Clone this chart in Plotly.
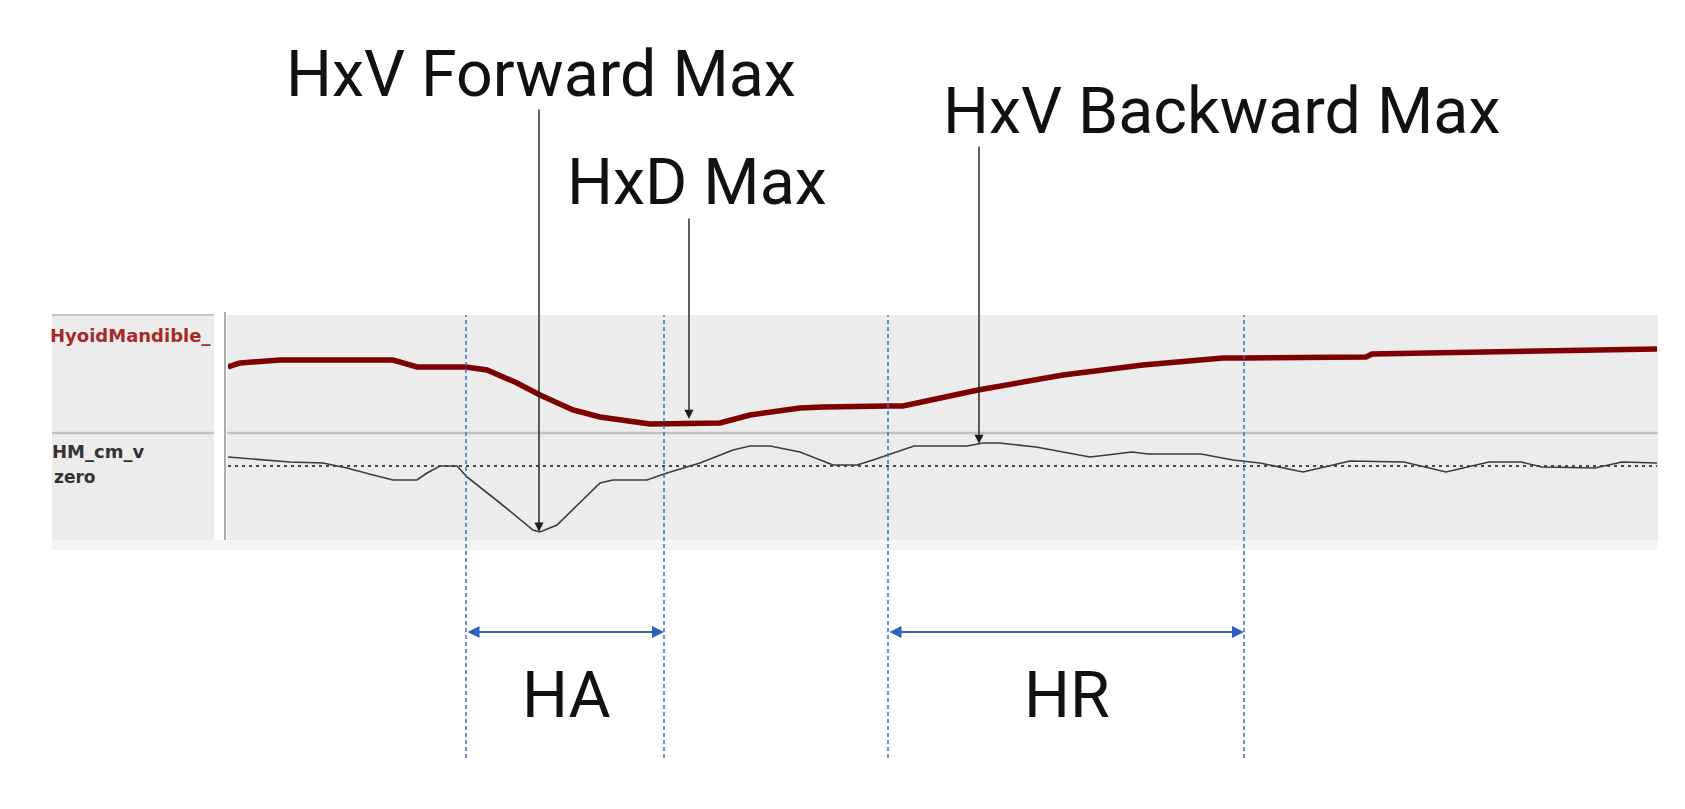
import numpy as np
import plotly.graph_objects as go

# ---------------- data ----------------
# time axis in video frames
frames_disp = [0, 1.2, 5.2, 16.5, 18.9, 23.8, 25.9, 28.9, 31.2, 34.5, 37.2, 40.5, 42.2,
               49.2, 52.2, 57.2, 59.5, 66.0, 67.5, 75.0, 83.5, 91.5, 99.5, 101.6,
               113.8, 114.4, 127.7, 141.0, 142.9]
# Hyoid-mandible distance (arbitrary units)
hyoid_mandible = [6.6, 7.0, 7.3, 7.3, 6.6, 6.6, 6.3, 5.0, 3.8, 2.3, 1.6, 1.1, 0.9,
                  1.0, 1.8, 2.5, 2.6, 2.7, 2.7, 4.3, 5.8, 6.8, 7.5, 7.5,
                  7.6, 7.9, 8.1, 8.4, 8.4]

frames_vel = [0, 1.2, 6.2, 9.5, 11.9, 14.5, 16.5, 18.9, 19.9, 21.2, 22.9, 23.9, 27.2,
              30.5, 31.2, 32.9, 37.2, 38.5, 41.9, 43.9, 47.2, 50.5, 52.2, 54.2, 57.2,
              60.5, 62.9, 64.5, 65.9, 68.6, 73.9, 75.5, 77.1, 80.8, 86.2, 90.4, 92.0,
              97.3, 100.5, 103.2, 107.5, 112.2, 117.6, 121.8, 126.1, 129.3, 131.4,
              136.7, 139.4, 142.9]
# HM velocity (cm/s, arbitrary scale)
hm_velocity = [0.9, 0.8, 0.4, 0.3, -0.2, -0.9, -1.4, -1.4, -0.7, 0.0, 0.0, -1.1, -3.7,
               -6.4, -6.6, -5.9, -1.7, -1.4, -1.4, -0.7, 0.3, 1.6, 2.0, 2.0, 1.4,
               0.1, 0.1, 0.6, 1.1, 2.0, 2.0, 2.3, 2.3, 1.9, 0.9, 1.4, 1.2,
               1.2, 0.6, 0.3, -0.6, 0.5, 0.4, -0.6, 0.4, 0.4, -0.1,
               -0.2, 0.4, 0.3]

# event frames
event_labels = ["HxV Forward Max", "HxD Max", "HxV Backward Max"]
event_frames = [31.1, 46.1, 75.1]
event_signal = ["vel", "disp", "vel"]

# phase boundaries (frames)
phase_labels = ["HA", "HR"]
phase_start = [23.8, 66.0]
phase_end = [43.6, 101.6]

channel_labels = ["HyoidMandible_", "HM_cm_v", "zero"]

# ---------------- layout geometry ----------------
W, H = 1685, 809
def pxx(p):
    return p / W
def pxy(p):
    return 1 - p / H

X_DOMAIN = [pxx(228), pxx(1657)]
X_RANGE = [0, 142.9]
Y_DOMAIN = [pxy(433), pxy(315)]
Y_RANGE = [0, 11.8]
Y2_DOMAIN = [pxy(540), pxy(433)]
Y2_RANGE = [-7.4, 3.3]

def paper_to_axis(p, dom, rng):
    return rng[0] + (p - dom[0]) / (dom[1] - dom[0]) * (rng[1] - rng[0])

fig = go.Figure()
fig.add_trace(go.Scatter(x=frames_disp, y=hyoid_mandible, mode="lines",
                         line=dict(color="#7e0000", width=5.5),
                         xaxis="x", yaxis="y", hoverinfo="skip", showlegend=False))
fig.add_trace(go.Scatter(x=frames_vel, y=hm_velocity, mode="lines",
                         line=dict(color="#3c3c3c", width=1.6),
                         xaxis="x", yaxis="y2", hoverinfo="skip", showlegend=False))

shapes = []
# panel backgrounds
shapes.append(dict(type="rect", xref="paper", yref="paper", x0=pxx(52), x1=pxx(1658),
                   y0=pxy(550), y1=pxy(540), fillcolor="#f5f5f5", line_width=0, layer="below"))
shapes.append(dict(type="rect", xref="paper", yref="paper", x0=pxx(52), x1=pxx(214),
                   y0=pxy(540), y1=pxy(315), fillcolor="#ececec", line_width=0, layer="below"))
shapes.append(dict(type="rect", xref="paper", yref="paper", x0=pxx(227), x1=pxx(1658),
                   y0=pxy(540), y1=pxy(315), fillcolor="#ececec", line_width=0, layer="below"))
shapes.append(dict(type="line", xref="paper", yref="paper", x0=pxx(52), x1=pxx(214),
                   y0=pxy(315), y1=pxy(315), line=dict(color="#c6c6c6", width=2), layer="below"))
shapes.append(dict(type="line", xref="paper", yref="paper", x0=pxx(225), x1=pxx(225),
                   y0=pxy(540), y1=pxy(312), line=dict(color="#acacac", width=2), layer="below"))
shapes.append(dict(type="line", xref="paper", yref="paper", x0=pxx(52), x1=pxx(214),
                   y0=pxy(433), y1=pxy(433), line=dict(color="#c2c2c2", width=2.5), layer="below"))
shapes.append(dict(type="line", xref="paper", yref="paper", x0=pxx(227), x1=pxx(1658),
                   y0=pxy(433), y1=pxy(433), line=dict(color="#c2c2c2", width=2.5), layer="below"))
# zero line
shapes.append(dict(type="line", xref="x", yref="y2", x0=X_RANGE[0], x1=X_RANGE[1],
                   y0=0, y1=0, line=dict(color="#4a4a4a", width=2, dash="3px,4px"), layer="below"))
# phase boundary lines
for xs in sorted(set(phase_start + phase_end)):
    shapes.append(dict(type="line", xref="x", yref="paper", x0=xs, x1=xs,
                       y0=pxy(758), y1=pxy(315),
                       line=dict(color="#3b6ccc", width=1.5, dash="4px,3px")))

annotations = []
# channel labels
annotations.append(dict(text="<b>%s</b>" % channel_labels[0], xref="paper", yref="paper",
                        x=pxx(48), y=pxy(335), xanchor="left", yanchor="middle", showarrow=False,
                        font=dict(family="DejaVu Sans", size=18, color="#a52a2a")))
annotations.append(dict(text="<b>%s</b>" % channel_labels[1], xref="paper", yref="paper",
                        x=pxx(50), y=pxy(451), xanchor="left", yanchor="middle", showarrow=False,
                        font=dict(family="DejaVu Sans", size=18, color="#333333")))
annotations.append(dict(text="<b>%s</b>" % channel_labels[2], xref="paper", yref="paper",
                        x=pxx(52), y=pxy(477), xanchor="left", yanchor="middle", showarrow=False,
                        font=dict(family="DejaVu Sans", size=17, color="#333333")))

# event labels and arrows
label_pos = [(541, 74), (697, 182), (1221, 111)]
tail_py = [108, 217, 145]
BIG = dict(family="Roboto", size=64.5, color="#111111")
for lab, ev, sig, (lx, ly), tp in zip(event_labels, event_frames, event_signal, label_pos, tail_py):
    annotations.append(dict(text=lab, xref="paper", yref="paper", x=pxx(lx), y=pxy(ly),
                            xanchor="center", yanchor="middle", showarrow=False, font=BIG))
    if sig == "vel":
        tip = float(np.interp(ev, frames_vel, hm_velocity))
        yref, dom, rng = "y2", Y2_DOMAIN, Y2_RANGE
    else:
        tip = float(np.interp(ev, frames_disp, hyoid_mandible)) + 0.45
        yref, dom, rng = "y", Y_DOMAIN, Y_RANGE
    annotations.append(dict(text="", xref="x", yref=yref, x=ev, y=tip,
                            axref="x", ayref=yref, ax=ev, ay=paper_to_axis(pxy(tp), dom, rng),
                            showarrow=True, arrowhead=2, arrowsize=1.3, arrowwidth=1.4,
                            arrowcolor="#1e1e1e", standoff=0, font=dict(size=1)))

# phase arrows and labels
for lab, s, e in zip(phase_labels, phase_start, phase_end):
    annotations.append(dict(text="", xref="x", yref="paper", x=e, y=pxy(632),
                            axref="x", ayref="pixel", ax=s, ay=0,
                            showarrow=True, arrowhead=2, arrowside="end+start",
                            arrowsize=1.2, arrowwidth=2, arrowcolor="#2d60bf",
                            standoff=0, startstandoff=0, font=dict(size=1)))
    annotations.append(dict(text=lab, xref="x", yref="paper", x=(s + e) / 2 + 0.1, y=pxy(695),
                            xanchor="center", yanchor="middle", showarrow=False, font=BIG))

fig.update_layout(
    width=W, height=H,
    margin=dict(l=0, r=0, t=0, b=0),
    paper_bgcolor="white", plot_bgcolor="rgba(0,0,0,0)",
    xaxis=dict(domain=X_DOMAIN, range=X_RANGE, visible=False, anchor="y2"),
    yaxis=dict(domain=Y_DOMAIN, range=Y_RANGE, visible=False),
    yaxis2=dict(domain=Y2_DOMAIN, range=Y2_RANGE, visible=False),
    shapes=shapes, annotations=annotations, showlegend=False,
)

fig.write_html("out.html", config={"displayModeBar": False},
               post_script="document.body.style.margin='0';")
